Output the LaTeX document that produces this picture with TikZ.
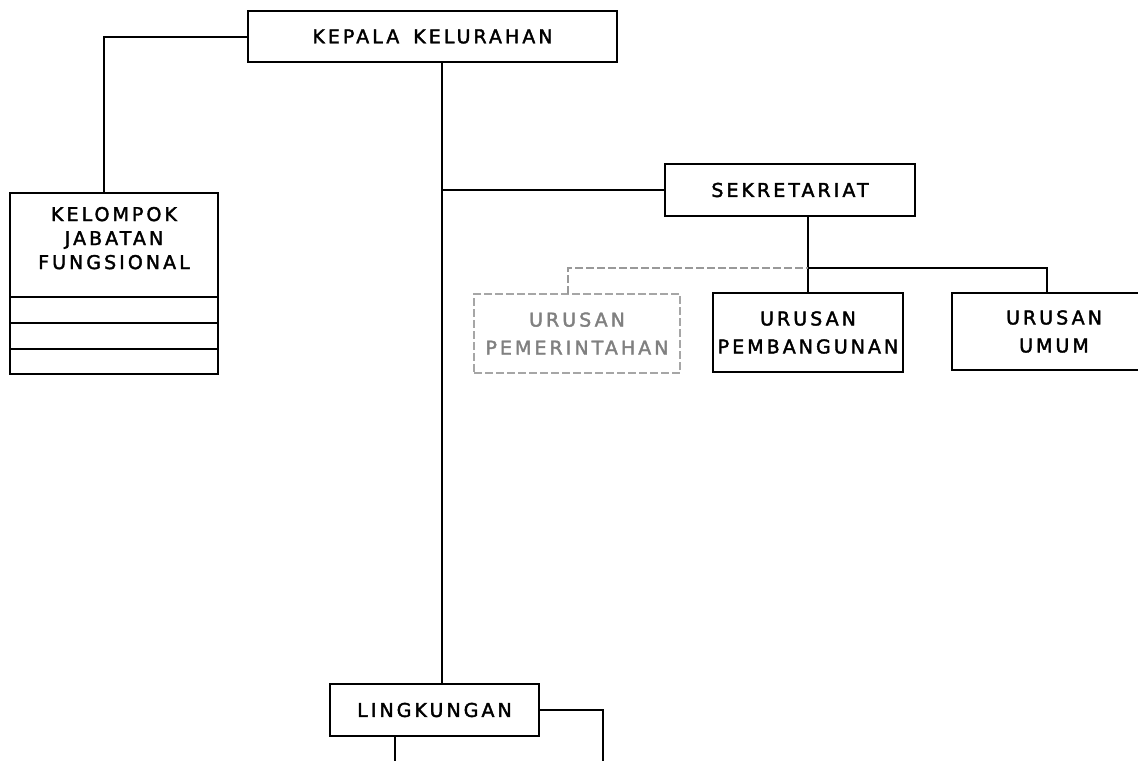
\documentclass[tikz,border=0pt]{standalone}
\usepackage{fontspec}
\usetikzlibrary{positioning}
\newfontfamily\dotfont[LetterSpace=16,FakeBold=2]{DejaVu Sans}

\begin{document}
\begin{tikzpicture}[x=1pt,y=-1pt,
    box/.style={draw,line width=1.3pt,inner sep=0pt,outer sep=0pt,align=center,
      font=\dotfont\fontsize{19}{24}\selectfont},
    faint/.style={box,draw=black!35,text=black!50,dash pattern=on 8pt off 3pt},
    ln/.style={line width=2pt},
    fln/.style={line width=1.4pt,draw=black!40,dash pattern=on 8pt off 3pt}]
  \useasboundingbox (0,0) rectangle (1138,761);
  \clip (0,0) rectangle (1138,761);
  \node[box,minimum width=369pt,minimum height=51pt] (kep) at (432.5,36.5) {KEPALA\hspace{14pt}KELURAHAN};
  \node[box,minimum width=208pt,minimum height=104pt,text depth=14pt] (kel) at (114,245) {KELOMPOK\\JABATAN\\FUNGSIONAL};
  \node[box,minimum width=208pt,minimum height=26pt,below=0pt of kel] (r1) {};
  \node[box,minimum width=208pt,minimum height=26pt,below=0pt of r1] (r2) {};
  \node[box,minimum width=208pt,minimum height=25pt,below=0pt of r2] (r3) {};
  \node[box,minimum width=250pt,minimum height=52pt] (sek) at (790,190) {SEKRETARIAT};
  \node[faint,minimum width=206pt,minimum height=79pt,font=\dotfont\fontsize{19}{28}\selectfont] (pem) at (577,333.5) {URUSAN\\PEMERINTAHAN};
  \node[box,minimum width=190pt,minimum height=79pt,font=\dotfont\fontsize{19}{28}\selectfont] (pmb) at (808,332.5) {URUSAN\\PEMBANGUNAN};
  \node[box,minimum width=204pt,minimum height=77pt,font=\dotfont\fontsize{19}{28}\selectfont] (umu) at (1054,331.5) {URUSAN\\UMUM};
  \node[box,minimum width=209pt,minimum height=52pt] (lin) at (434.5,710) {LINGKUNGAN};
  \coordinate (t) at ([xshift=9pt]kep.south);
  \coordinate (bus) at ([yshift=25pt]pmb.north);
  \coordinate (e1) at (603,761);
  \coordinate (e2) at (395,761);
  \draw[ln] (kep.west) -| ([xshift=-10pt]kel.north);
  \draw[ln] (t) -- (t |- lin.north);
  \draw[ln] (t |- sek.west) -- (sek.west);
  \draw[ln] (sek.south -| pmb.north) -- (pmb.north);
  \draw[fln] ([xshift=-9pt]pem.north) |- (bus);
  \draw[ln] (bus) -| ([xshift=-7pt]umu.north);
  \draw[ln] (lin.east) -| (e1);
  \draw[ln] (e2 |- lin.south) -- (e2);
\end{tikzpicture}
\end{document}
